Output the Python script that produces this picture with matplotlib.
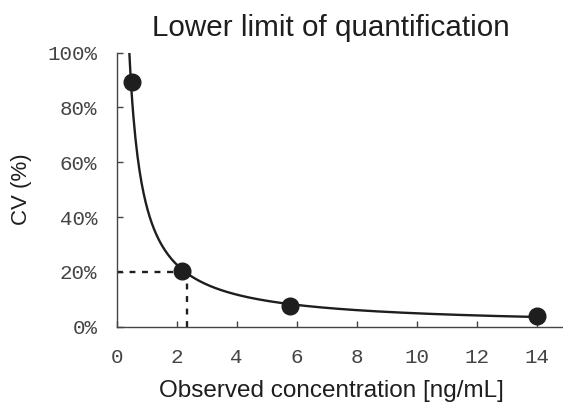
import numpy as np
import matplotlib
matplotlib.use('Agg')
import matplotlib.pyplot as plt
from matplotlib.ticker import FuncFormatter

# observed concentration [ng/mL] and CV [%]
conc = [0.5, 2.17, 5.78, 14.0]
cv = [89.3, 20.2, 7.4, 3.9]
cv_limit = 20.0
lloq = 2.33  # position of the vertical dashed line

x_ticks = [0, 2, 4, 6, 8, 10, 12, 14]
y_ticks = [0, 20, 40, 60, 80, 100]

# power trendline fitted to the points (as the original chart does)
b, log_a = np.polyfit(np.log(conc), np.log(cv), 1)
a = np.exp(log_a)
x_start = (100.0 / a) ** (1.0 / b)
x_fit = np.linspace(x_start, max(conc), 400)
y_fit = a * x_fit ** b

fig = plt.figure(figsize=(5.63, 4.03), dpi=100)
ax = fig.add_axes([116.7 / 563, 76.3 / 403, 1 - 116.7 / 563, 274.0 / 403])

ink = '#1e1e1e'
ax.plot(x_fit, y_fit, color=ink, lw=1.7, zorder=3)
ax.plot(conc, cv, 'o', color=ink, ms=12, zorder=4)
ax.plot([0, lloq], [cv_limit, cv_limit], color=ink, lw=1.7, ls=(0, (2.5, 2.8)))
ax.plot([lloq, lloq], [0, cv_limit], color=ink, lw=1.7, ls=(0, (2.5, 2.8)))

ax.set_xlim(0, (563 - 116.7) / 30)
ax.set_ylim(0, 100)
ax.set_xticks(x_ticks)
ax.set_yticks(y_ticks)
ax.yaxis.set_major_formatter(FuncFormatter(lambda v, p: f'{v:.0f}%'))

for s in ['top', 'right']:
    ax.spines[s].set_visible(False)
for s in ['left', 'bottom']:
    ax.spines[s].set_color('#444444')
    ax.spines[s].set_linewidth(1.0)

ax.tick_params(direction='in', length=4, width=1, color='#444444',
               labelcolor='#444444')
ax.tick_params(axis='y', pad=14)
ax.tick_params(axis='x', pad=15)
for lab in ax.get_xticklabels() + ax.get_yticklabels():
    lab.set_family('Liberation Mono')
    lab.set_fontsize(15)

fig.text(330.5 / 563, 1 - 36 / 403, 'Lower limit of quantification',
         ha='center', va='baseline', fontsize=21.3, family='Liberation Sans',
         color=ink)
fig.text(331 / 563, 1 - 397 / 403, 'Observed concentration [ng/mL]',
         ha='center', va='baseline', fontsize=17.5, family='Liberation Sans',
         color=ink)
fig.text(22 / 563, 1 - 189 / 403, 'CV (%)', rotation=90,
         ha='center', va='center', fontsize=16, family='Liberation Sans',
         color=ink)

fig.savefig('out.png', dpi=100)
